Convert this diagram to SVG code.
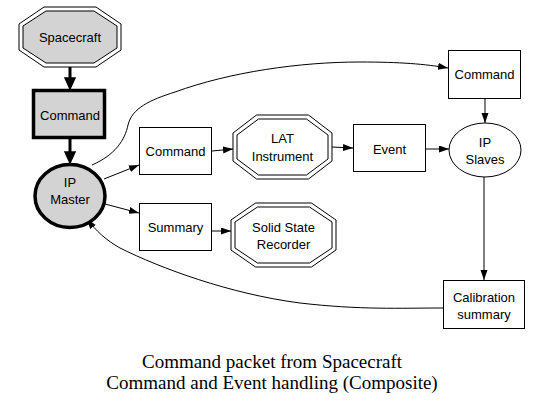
<svg xmlns="http://www.w3.org/2000/svg" width="543" height="407" viewBox="0 0 543 407">
<style>
.box{fill:#fff;stroke:#000;stroke-width:1}
.gray{fill:#d3d3d3}
.lbl{font-family:"Liberation Sans",Arial,sans-serif;font-size:13px;text-anchor:middle;fill:#000}
.ttl{font-family:"Liberation Serif","Times New Roman",serif;font-size:19px;text-anchor:middle;fill:#000}
.edge{fill:none;stroke:#000;stroke-width:1}
.thick{fill:none;stroke:#000;stroke-width:3}
</style>
<defs>
<marker id="ah" markerUnits="userSpaceOnUse" markerWidth="11" markerHeight="8" refX="10" refY="3.5" orient="auto">
<path d="M0,0 L10,3.5 L0,7 z" fill="#000"/>
</marker>
</defs>
<rect width="543" height="407" fill="#fff"/>
<g id="connectors">
<path class="thick" d="M70,67 L70,80" />
<path d="M65,78 L70,89 L75,78 z" fill="#000" stroke="#000" stroke-width="1.5"/>
<path class="thick" d="M70,139 L70,153" />
<path d="M65,152 L70,163 L75,152 z" fill="#000" stroke="#000" stroke-width="1.5"/>
<path class="edge" d="M104,179 L139,165" marker-end="url(#ah)"/>
<path class="edge" d="M105,204 L139,213" marker-end="url(#ah)"/>
<path class="edge" d="M92,165 C115,155 125,140 128,125 C132,108 150,100 175,92 C230,72 300,62 360,62 C400,62 425,64 448,68" marker-end="url(#ah)"/>
<path class="edge" d="M212,151 L233,149" marker-end="url(#ah)"/>
<path class="edge" d="M332,147 L353,148" marker-end="url(#ah)"/>
<path class="edge" d="M426,149 L449,149" marker-end="url(#ah)"/>
<path class="edge" d="M212,231 L231,231" marker-end="url(#ah)"/>
<path class="edge" d="M485,99 L485,123" marker-end="url(#ah)"/>
<path class="edge" d="M484,177 L484,280" marker-end="url(#ah)"/>
<path class="edge" d="M443,308 C400,308 360,310 300,303 C230,294 160,268 120,248 C106,240 96,231 87,219" marker-end="url(#ah)"/>
</g>
<g id="spacecraft">
<polygon class="box" points="44,7 96,7 121,24 121,50 96,67 44,67 19,50 19,24"/>
<polygon class="box gray" points="46,11 94,11 117,26 117,48 94,63 46,63 23,48 23,26"/>
<text class="lbl" x="70" y="42">Spacecraft</text>
</g>
<g id="command_sc">
<rect class="gray" x="33.5" y="90.5" width="71" height="47" stroke="#000" stroke-width="3.5"/>
<text class="lbl" x="70" y="120">Command</text>
</g>
<g id="ip_master">
<ellipse class="gray" cx="70" cy="196" rx="35" ry="31.5" stroke="#000" stroke-width="3.5"/>
<text class="lbl" x="70" y="187">IP</text>
<text class="lbl" x="70" y="204">Master</text>
</g>
<g id="command_lat">
<rect class="box" x="139.5" y="127.5" width="72" height="47"/>
<text class="lbl" x="175.5" y="156">Command</text>
</g>
<g id="lat">
<polygon class="box" points="256.5,115 308.5,115 332,133 332,161 308.5,179 256.5,179 233,161 233,133"/>
<polygon class="box" points="258.5,119 306.5,119 328,135 328,159 306.5,175 258.5,175 237,159 237,135"/>
<text class="lbl" x="282.5" y="143">LAT</text>
<text class="lbl" x="282.5" y="161">Instrument</text>
</g>
<g id="event">
<rect class="box" x="353.5" y="124.5" width="72" height="47"/>
<text class="lbl" x="389.5" y="154">Event</text>
</g>
<g id="command_top">
<rect class="box" x="448.5" y="50.5" width="72" height="48"/>
<text class="lbl" x="484.5" y="79">Command</text>
</g>
<g id="ip_slaves">
<ellipse class="box" cx="485" cy="150" rx="36" ry="27"/>
<text class="lbl" x="485" y="147">IP</text>
<text class="lbl" x="485" y="164">Slaves</text>
</g>
<g id="summary">
<rect class="box" x="139.5" y="203.5" width="72" height="47"/>
<text class="lbl" x="175.5" y="232">Summary</text>
</g>
<g id="ssr">
<polygon class="box" points="255.5,203 311.5,203 336,220 336,250 311.5,267 255.5,267 231,250 231,220"/>
<polygon class="box" points="257.5,207 309.5,207 332,222 332,248 309.5,263 257.5,263 235,248 235,222"/>
<text class="lbl" x="283.5" y="232">Solid State</text>
<text class="lbl" x="283.5" y="249">Recorder</text>
</g>
<g id="calibration">
<rect class="box" x="443.5" y="280.5" width="81" height="48"/>
<text class="lbl" x="484" y="302">Calibration</text>
<text class="lbl" x="484" y="319">summary</text>
</g>
<g id="title">
<text class="ttl" x="272" y="368">Command packet from Spacecraft</text>
<text class="ttl" x="272" y="389">Command and Event handling (Composite)</text>
</g>
</svg>
